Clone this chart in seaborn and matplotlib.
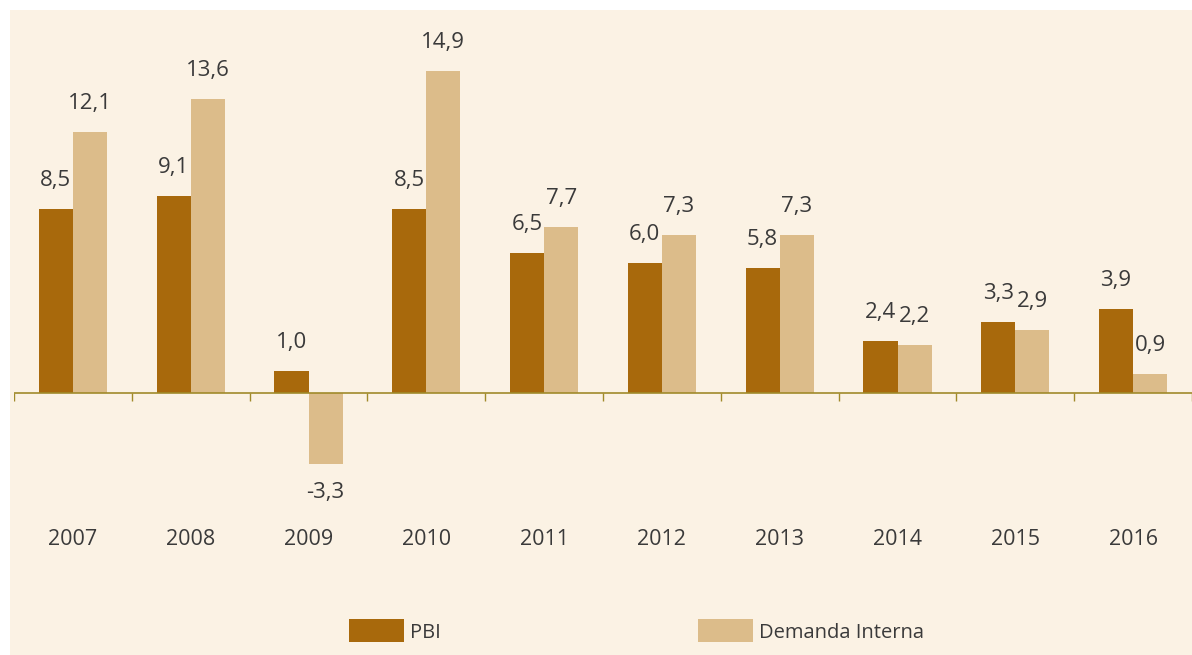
import matplotlib
matplotlib.use("Agg")
import matplotlib.pyplot as plt
import seaborn as sns
import pandas as pd
from matplotlib.patches import Rectangle, Patch

years = ["2007", "2008", "2009", "2010", "2011", "2012", "2013", "2014", "2015", "2016"]
pbi = [8.5, 9.1, 1.0, 8.5, 6.5, 6.0, 5.8, 2.4, 3.3, 3.9]
demanda = [12.1, 13.6, -3.3, 14.9, 7.7, 7.3, 7.3, 2.2, 2.9, 0.9]
series_names = ["PBI", "Demanda Interna"]

c_pbi = "#A8690C"
c_dem = "#DCBC8A"
bg = "#FBF2E4"
txt = "#3a3a3a"
axis_c = "#A08A2A"

sns.set_theme(style="white")
plt.rcParams["font.family"] = ["Open Sans", "DejaVu Sans"]

df = pd.DataFrame({
    "year": years * 2,
    "value": pbi + demanda,
    "serie": [series_names[0]] * len(years) + [series_names[1]] * len(years),
})

W, H = 1192, 655
fig = plt.figure(figsize=(W / 100, H / 100), dpi=100)
fig.patch.set_facecolor("white")
fig.add_artist(Rectangle((10 / W, 0), 1 - 10 / W, 1 - 10 / H,
                         transform=fig.transFigure, facecolor=bg,
                         edgecolor="none", zorder=-10))

ppu = 21.6
zero_px = 393
top_px, bot_px = 20, 522
left_px, right_px = 14, 1192
ax = fig.add_axes([left_px / W, 1 - bot_px / H, (right_px - left_px) / W, (bot_px - top_px) / H])
ax.set_facecolor("none")

sns.barplot(data=df, x="year", y="value", hue="serie", order=years,
            hue_order=series_names, palette=[c_pbi, c_dem], width=0.58,
            saturation=1, linewidth=0, ax=ax, legend=False)

ax.set_ylim(-(bot_px - zero_px) / ppu, (zero_px - top_px) / ppu)
ax.set_xlim(-0.5, len(years) - 0.5)

for cont in ax.containers:
    vals = [b.get_height() for b in cont]
    ax.bar_label(cont, labels=[f"{v:.1f}".replace(".", ",") for v in vals],
                 padding=13, fontsize=16, color=txt)

ax.axhline(0, color=axis_c, lw=1.2, zorder=5)
bounds = [i - 0.5 for i in range(len(years) + 1)]
ax.vlines(bounds, -0.38, 0, color=axis_c, lw=1.0, zorder=5)

for s in ax.spines.values():
    s.set_visible(False)
ax.set_yticks([])
ax.set_xlabel("")
ax.set_ylabel("")
ax.tick_params(axis="x", length=0, pad=5, labelsize=15.5, labelcolor=txt)

handles = [Patch(facecolor=c_pbi, edgecolor="none"), Patch(facecolor=c_dem, edgecolor="none")]
fig.legend(handles, series_names, loc="center", bbox_to_anchor=(0.534, 1 - 631 / H),
           ncol=2, frameon=False, fontsize=14.5, handlelength=2.7, handleheight=1.35,
           handletextpad=0.3, columnspacing=12.8, labelcolor=txt)

fig.savefig("out.png", dpi=100, facecolor="white")
